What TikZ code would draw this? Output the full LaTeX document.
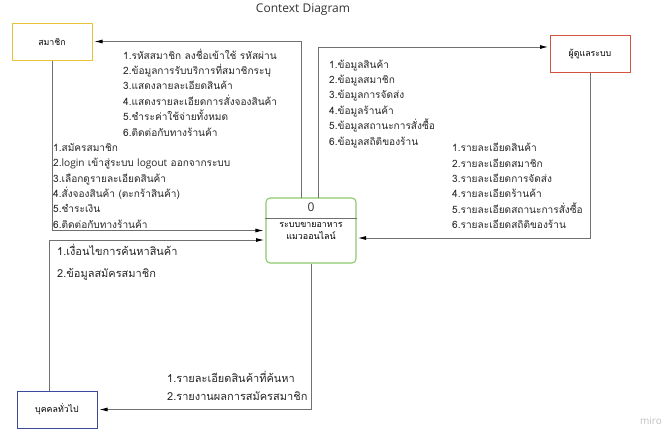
\documentclass[tikz,border=0pt]{standalone}
\usepackage{fontspec}
\usepackage{xcolor}
\usetikzlibrary{arrows.meta}
\setmainfont{Open Sans}
\newfontfamily\thaifont[Script=Thai]{Loma}
\definecolor{memberline}{HTML}{E8C33A}
\definecolor{adminline}{HTML}{D2543F}
\definecolor{publicline}{HTML}{3B4A9A}
\definecolor{systemline}{HTML}{8CC96A}
\definecolor{flowline}{HTML}{707070}
\tikzset{
  entity/.style={draw, line width=1pt, minimum width=80pt, minimum height=37pt, inner sep=0pt, font=\thaifont\fontsize{8.8}{10}\selectfont},
  flow/.style={draw=flowline, line width=0.8pt, -{Latex[length=8pt,width=4pt,black]}, shorten >=2pt},
  datalist/.style={align=left, inner sep=0pt, anchor=north west, text=black!85, font=\thaifont\fontsize{10.1}{15.4}\selectfont},
  datalistbig/.style={align=left, inner sep=0pt, anchor=north west, text=black!85, font=\thaifont\fontsize{11}{22}\selectfont}
}
\begin{document}
\begin{tikzpicture}[x=1pt,y=-1pt]
\useasboundingbox (0,0) rectangle (669,440);
\node[font=\fontsize{12}{14}\selectfont, text=black!80] (title) at (303,10) {Context Diagram};
% entities
\node[entity, draw=memberline] (member) at (52,41.5) {สมาชิก};
\node[entity, draw=adminline] (admin) at (590,54) {ผู้ดูแลระบบ};
\node[entity, draw=publicline] (public) at (57,409.5) {บุคคลทั่วไป};
% system
\node[draw=systemline, line width=1.1pt, rounded corners=4pt, minimum width=90pt, minimum height=65pt] (system) at (311,230.5) {};
\draw[flowline, line width=0.8pt] (system.west |- 0,218) -- (system.east |- 0,218);
\node[font=\fontsize{12}{14}\selectfont, text=black!80] (sysnum) at (311,207) {0};
\node[align=center, inner sep=0pt, font=\thaifont\fontsize{8.9}{12}\selectfont] (sysname) at (311,231) {ระบบขายอาหาร\\แมวออนไลน์};
% free ends on the system box
\coordinate (toMember) at (301,198);
\coordinate (toAdmin) at (318,198);
\coordinate (fromAdmin) at (356,238);
\coordinate (fromPublic) at (266,240);
\coordinate (publicTop) at (49,391);
\coordinate (adminIn) at (550,47);
% flows
\draw[flow] (toMember) |- (member.east);
\draw[flow] (member.south) |- (system.west);
\draw[flow] (publicTop) |- (fromPublic);
\draw[flow] (system.south) |- (public.east);
\draw[flow] (toAdmin) |- (adminIn);
\draw[flow] (admin.south) |- (fromAdmin);
% labels
\node[datalist] (listA) at (123,48.5) {1.รหัสสมาชิก ลงชื่อเข้าใช้ รหัสผ่าน\\2.ข้อมูลการรับบริการที่สมาชิกระบุ\\3.แสดงลายละเอียดสินค้า\\4.แสดงรายละเอียดการสั่งจองสินค้า\\5.ชำระค่าใช้จ่ายทั้งหมด\\6.ติดต่อกับทางร้านค้า};
\node[datalist] (listB) at (53,143) {1.สมัครสมาชิก\\2.{\rmfamily login} เข้าสู่ระบบ {\rmfamily logout} ออกจากระบบ\\3.เลือกดูรายละเอียดสินค้า\\4.สั่งจองสินค้า (ตะกร้าสินค้า)\\5.ชำระเงิน\\6.ติดต่อกับทางร้านค้า};
\node[datalist] (listC) at (329,59.5) {1.ข้อมูลสินค้า\\2.ข้อมูลสมาชิก\\3.ข้อมูลการจัดส่ง\\4.ข้อมูลร้านค้า\\5.ข้อมูลสถานะการสั่งซื้อ\\6.ข้อมูลสถิติของร้าน};
\node[datalist] (listD) at (452,143) {1.รายละเอียดสินค้า\\2.รายละเอียดสมาชิก\\3.รายละเอียดการจัดส่ง\\4.รายละเอียดร้านค้า\\5.รายละเอียดสถานะการสั่งซื้อ\\6.รายละเอียดสถิติของร้าน};
\node[datalistbig] (listE) at (57,243.5) {1.เงื่อนไขการค้นหาสินค้า\\2.ข้อมูลสมัครสมาชิก};
\node[datalistbig, font=\thaifont\fontsize{11}{18}\selectfont] (listF) at (167,371) {1.รายละเอียดสินค้าที่ค้นหา\\2.รายงานผลการสมัครสมาชิก};
\node[text=black!25, font=\fontsize{10}{12}\selectfont] (miro) at (651,421) {miro};
\end{tikzpicture}
\end{document}
